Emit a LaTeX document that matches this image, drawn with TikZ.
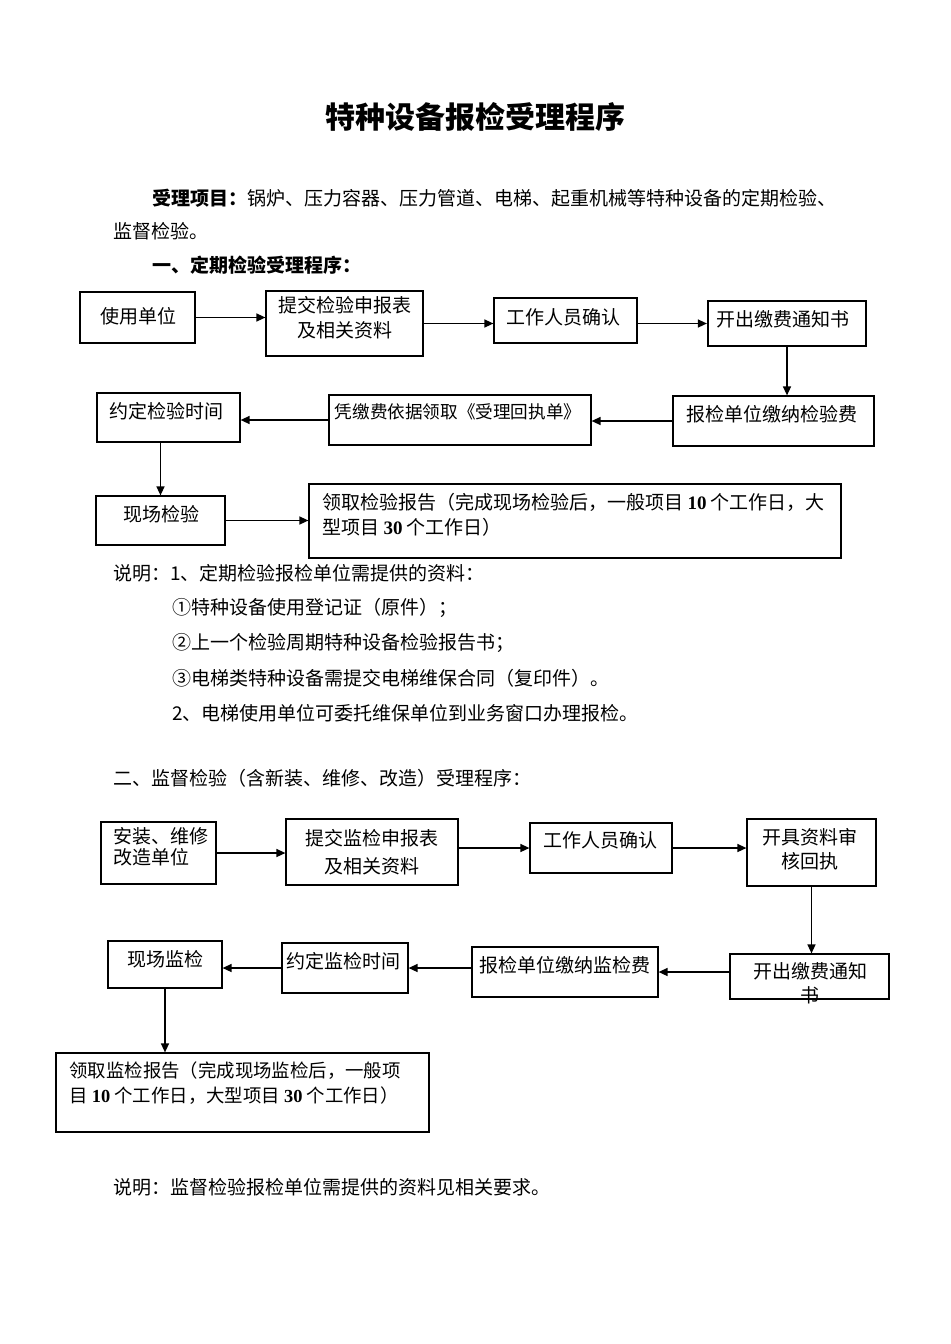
\documentclass[tikz,border=0pt]{standalone}
\usepackage{fontspec}
\setmainfont{Noto Sans CJK SC}
\newfontfamily\tnr{Liberation Serif}
\usetikzlibrary{arrows.meta}
\begin{document}
\begin{tikzpicture}[x=0.5pt,y=-0.5pt,
  box/.style 2 args={draw, line width=0.6pt, minimum width=#1*0.5pt, minimum height=#2*0.5pt, inner sep=0pt},
  tbox/.style={line width=1.1pt},
  arr/.style={-{Triangle[length=4.5pt,width=4pt]}, line width=0.7pt},
  txt/.style={inner sep=0pt, font=\fontsize{9.5}{12.5}\selectfont},
  body/.style={inner sep=0pt, anchor=west, font=\fontsize{9.5}{12.5}\selectfont}]
\useasboundingbox (0,0) rectangle (950,1344);
% title and text
\node[inner sep=0pt, font=\fontsize{15}{18}\selectfont\bfseries] (title) at (475,117) {特种设备报检受理程序};
\node[body] (p1) at (152,198) {\textbf{受理项目：}锅炉、压力容器、压力管道、电梯、起重机械等特种设备的定期检验、};
\node[body] (p2) at (113,231) {监督检验。};
\node[body] (h1) at (152,265) {\textbf{一、定期检验受理程序：}};
% section 1 boxes
\node[box={115}{51}, tbox] (A1) at (137.5,317.5) {};
\node[box={157}{65}] (A2) at (344.5,323.5) {};
\node[box={143}{45}] (A3) at (565.5,320.5) {};
\node[box={158}{45}, tbox] (A4) at (787,323.5) {};
\node[box={201}{50}] (A5) at (773.5,421) {};
\node[box={262}{50}] (A6) at (460,420) {};
\node[box={143}{49}] (A7) at (168.5,417.5) {};
\node[box={129}{49}] (A8) at (160.5,520.5) {};
\node[box={532}{74}] (A9) at (575,521) {};
\node[txt] (tA1) at (138,316) {使用单位};
\node[txt, align=center] (tA2) at (345,317.5) {提交检验申报表\\及相关资料};
\node[txt] (tA3) at (563,317) {工作人员确认};
\node[txt] (tA4) at (783,319) {开出缴费通知书};
\node[txt] (tA5) at (772,414) {报检单位缴纳检验费};
\node[txt, font=\fontsize{8.8}{12}\selectfont] (tA6) at (458,412) {凭缴费依据领取《受理回执单》};
\node[txt] (tA7) at (166,411) {约定检验时间};
\node[txt] (tA8) at (161,514) {现场检验};
\node[txt, anchor=west, align=left] (tA9) at (322,514.5) {领取检验报告（完成现场检验后，一般项目 {\tnr\bfseries 10} 个工作日，大\\型项目 {\tnr\bfseries 30} 个工作日）};
\draw[arr] (A1.east) -- (A1.east -| A2.west);
\draw[arr] (A2.east) -- (A2.east -| A3.west);
\draw[arr] (A3.east |- A4.west) -- (A4.west);
\draw[arr] (A4.south) -- (A4.south |- A5.north);
\draw[arr] (A5.west) -- (A5.west -| A6.east);
\draw[arr] (A6.west) -- (A6.west -| A7.east);
\draw[arr] (A7.south -| A8.north) -- (A8.north);
\draw[arr] (A8.east) -- (A8.east -| A9.west);
% notes
\node[body] (n1) at (113,573) {说明：1、定期检验报检单位需提供的资料：};
\node[body] (n2) at (172,608) {①特种设备使用登记证（原件）；};
\node[body] (n3) at (172,643) {②上一个检验周期特种设备检验报告书；};
\node[body] (n4) at (172,678) {③电梯类特种设备需提交电梯维保合同（复印件）。};
\node[body] (n5) at (172,713) {2、电梯使用单位可委托维保单位到业务窗口办理报检。};
\node[body] (h2) at (113,778) {二、监督检验（含新装、维修、改造）受理程序：};
% section 2 boxes
\node[box={115}{62}] (B1) at (158.5,853) {};
\node[box={172}{66}] (B2) at (372,852) {};
\node[box={142}{50}] (B3) at (601,848) {};
\node[box={129}{67}] (B4) at (811.5,852.5) {};
\node[box={159}{45}] (B5) at (809.5,976.5) {};
\node[box={186}{50}] (B6) at (565,972) {};
\node[box={126}{50}] (B7) at (345,968) {};
\node[box={114}{47}] (B8) at (165,964.5) {};
\node[box={373}{79}] (B9) at (242.5,1092.5) {};
\node[txt, anchor=west, align=left, font=\fontsize{9.5}{10.5}\selectfont] (tB1) at (113,846.5) {安装、维修\\改造单位};
\node[txt, align=center, font=\fontsize{9.5}{14}\selectfont] (tB2) at (372,852) {提交监检申报表\\及相关资料};
\node[txt] (tB3) at (600,840) {工作人员确认};
\node[txt, align=center, font=\fontsize{9.5}{12}\selectfont] (tB4) at (810,849) {开具资料审\\核回执};
\node[txt, align=center, font=\fontsize{9.5}{12}\selectfont] (tB5) at (810,983) {开出缴费通知\\书};
\node[txt] (tB6) at (565,965) {报检单位缴纳监检费};
\node[txt] (tB7) at (343,961) {约定监检时间};
\node[txt] (tB8) at (165,959) {现场监检};
\node[txt, anchor=west, align=left, font=\fontsize{9.2}{12.5}\selectfont] (tB9) at (69,1083.5) {领取监检报告（完成现场监检后，一般项\\目 {\tnr\bfseries 10} 个工作日，大型项目 {\tnr\bfseries 30} 个工作日）};
\draw[arr] (B1.east) -- (B1.east -| B2.west);
\draw[arr] (B2.east |- B3.west) -- (B3.west);
\draw[arr] (B3.east) -- (B3.east -| B4.west);
\draw[arr] (B4.south) -- (B4.south |- B5.north);
\draw[arr] (B5.west |- B6.east) -- (B6.east);
\draw[arr] (B6.west |- B7.east) -- (B7.east);
\draw[arr] (B7.west) -- (B7.west -| B8.east);
\draw[arr] (B8.south) -- (B8.south |- B9.north);
\node[body] (n6) at (113,1187) {说明：监督检验报检单位需提供的资料见相关要求。};
\end{tikzpicture}
\end{document}
